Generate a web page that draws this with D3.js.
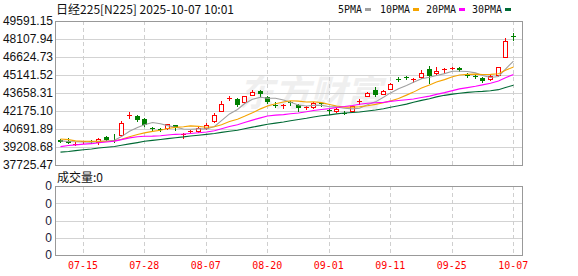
<!DOCTYPE html>
<html>
<head>
<meta charset="utf-8">
<script src="https://d3js.org/d3.v7.min.js"></script>
<style>
  body { margin: 0; background: #fff; }
  text { font-family: "Liberation Sans", Arial, sans-serif; }
</style>
</head>
<body>
<div id="kline"></div>

<script>
// trading days shown (07-10 .. 10-07)
var dates = ["07-10","07-11","07-14","07-15","07-16","07-17","07-18","07-22","07-23","07-24",
  "07-25","07-28","07-29","07-30","07-31","08-01","08-04","08-05","08-06","08-07",
  "08-08","08-12","08-13","08-14","08-15","08-18","08-19","08-20","08-21","08-22",
  "08-25","08-26","08-27","08-28","08-29","09-01","09-02","09-03","09-04","09-05",
  "09-08","09-09","09-10","09-11","09-12","09-16","09-17","09-18","09-19","09-22",
  "09-24","09-25","09-26","09-29","09-30","10-01","10-02","10-03","10-06","10-07"];

var open = [39820,39700,39420,39600,39720,39630,40060,39820,40230,41740,
  41780,41540,40760,40710,40790,41000,40180,40470,40530,40790,
  41360,42200,43200,43190,42910,43520,43850,43350,42700,42560,
  42880,42690,42450,42480,42820,42280,42200,42050,42150,42920,
  43450,43920,43600,43990,44850,44960,44720,44970,45650,45300,
  45540,45660,45720,45180,45080,44880,44780,45150,46650,48330];

var high = [39880,39950,39580,39740,39820,39960,40110,40290,41390,42070,
  41830,41580,40840,40780,41130,41060,40360,40640,40880,41200,
  41980,42990,43450,43240,43450,43870,43900,43420,42880,42780,
  43020,42720,42620,42890,42860,42350,42420,42200,42620,43140,
  43770,44140,43900,44500,44950,45060,44900,45550,45900,45780,
  45720,45800,45790,45300,45200,44950,45120,45800,48150,48580];

var low = [39600,39530,39390,39520,39520,39480,39780,39620,40100,41580,
  41350,40920,40560,40500,40700,40620,39960,40400,40450,40700,
  41300,42150,43050,42560,42850,43480,43350,42800,42520,42440,
  42700,42200,42350,42400,42600,41950,42120,41900,42100,42780,
  43380,43400,43550,43950,44650,44780,44560,44900,44500,45250,
  45320,45600,45450,44950,44900,44550,44720,45100,46600,48030];

var close = [39646,39570,39460,39678,39663,39901,39819,39775,41171,41826,
  41456,40998,40675,40655,41070,40800,40291,40550,40795,41059,
  41820,42718,43275,42649,43378,43714,43546,42889,42610,42633,
  42808,42394,42520,42829,42718,42189,42310,41939,42580,43019,
  43644,43459,43838,44373,44768,44902,44790,45303,45046,45494,
  45630,45755,45540,45080,45010,44620,45060,45770,47945,48250];

var ma5 = [39710,39662,39637,39635,39603,39654,39704,39767,40066,40498,
  40809,41045,41225,41122,40971,40840,40698,40673,40701,40699,
  40903,41388,41933,42304,42768,43147,43312,43235,43227,43078,
  42897,42667,42593,42637,42654,42530,42513,42397,42347,42407,
  42698,42928,43308,43667,44016,44268,44534,44827,44962,45107,
  45253,45446,45456,45429,45317,45101,44938,45021,45627,46291];

var ma10 = [39872,39814,39712,39681,39671,39682,39683,39702,39850,40051,
  40232,40375,40496,40594,40735,40825,40872,40949,40912,40835,
  40871,41043,41303,41503,41734,42025,42350,42584,42766,42923,
  43022,42990,42914,42932,42866,42714,42590,42495,42492,42531,
  42614,42721,42853,43007,43212,43483,43731,44068,44314,44562,
  44760,44990,45142,45196,45212,45177,45192,45238,45528,45804];

var ma20 = [39242,39329,39387,39444,39483,39553,39624,39695,39814,39958,
  40052,40094,40104,40137,40203,40253,40278,40326,40381,40443,
  40552,40709,40900,41048,41234,41425,41611,41767,41839,41879,
  41947,42016,42109,42217,42300,42369,42470,42540,42629,42727,
  42818,42855,42883,42970,43039,43098,43161,43281,43403,43546,
  43687,43855,43997,44101,44212,44330,44461,44653,44921,45183];

var ma30 = [38789,38842,38909,38983,39047,39125,39194,39251,39349,39463,
  39572,39678,39757,39827,39900,39977,40040,40113,40180,40251,
  40325,40411,40504,40592,40713,40844,40968,41079,41176,41270,
  41375,41469,41571,41676,41778,41854,41937,42010,42056,42096,
  42169,42251,42357,42481,42604,42741,42891,43049,43191,43339,
  43466,43567,43636,43712,43763,43791,43838,43934,44112,44299];

var priceTicks = [37725.47, 39208.68, 40691.89, 42175.10, 43658.31, 45141.52, 46624.73, 48107.94, 49591.15];
var volTicks = [0, 0, 0, 0, 0];
var dateTicks = ["07-15","07-28","08-07","08-20","09-01","09-11","09-25","10-07"];

var maNames = ["5PMA", "10PMA", "20PMA", "30PMA"];
var maColors = ["#a0a0a0", "#f5a400", "#ff00ff", "#006a35"];

var upColor = "#ff0000", downColor = "#008000";

// layout
var W = 578, H = 276;
var box = {left: 55, right: 522, top: 21, bottom: 165};
var vbox = {top: 186, bottom: 255};

var svg = d3.select("#kline")
  .append("svg")
    .attr("width", W)
    .attr("height", H);

var x = d3.scaleBand()
  .domain(dates)
  .range([56, 517]);
function cx(d) { return Math.round(x(d) + x.bandwidth() / 2); }

var y = d3.scaleLinear()
  .domain([priceTicks[0], priceTicks[priceTicks.length - 1]])
  .range([box.bottom, box.top]);

var yv = d3.scaleLinear()
  .domain([0, volTicks.length - 1])
  .range([vbox.bottom, vbox.top]);

// watermark
svg.append("text")
  .attr("x", 238).attr("y", 106)
  .style("font-family", "'Noto Sans CJK SC'")
  .style("font-size", "36px")
  .style("font-weight", "bold")
  .style("font-style", "italic")
  .attr("fill", "#efefef")
  .text("东方财富");

// horizontal grid (price)
svg.append("g").selectAll("line")
  .data(priceTicks.slice(1, -1))
  .join("line")
    .attr("x1", box.left).attr("x2", box.right)
    .attr("y1", function(d) { return Math.round(y(d)) + 0.5; })
    .attr("y2", function(d) { return Math.round(y(d)) + 0.5; })
    .attr("stroke", "#d3d3d3");

// horizontal grid (volume)
svg.append("g").selectAll("line")
  .data(d3.range(1, volTicks.length - 1))
  .join("line")
    .attr("x1", box.left).attr("x2", box.right)
    .attr("y1", function(d) { return Math.round(yv(d)) + 0.5; })
    .attr("y2", function(d) { return Math.round(yv(d)) + 0.5; })
    .attr("stroke", "#d3d3d3");

// vertical dashed grid in both panels
[[box.top, box.bottom], [vbox.top, vbox.bottom]].forEach(function(r) {
  svg.append("g").selectAll("line")
    .data(dateTicks)
    .join("line")
      .attr("x1", function(d) { return cx(d) + 0.5; })
      .attr("x2", function(d) { return cx(d) + 0.5; })
      .attr("y1", r[0]).attr("y2", r[1])
      .attr("stroke", "#cfcfcf")
      .attr("stroke-dasharray", "4,3");
});

// frames
svg.append("rect")
  .attr("x", box.left + 0.5).attr("y", box.top + 0.5)
  .attr("width", box.right - box.left).attr("height", box.bottom - box.top)
  .attr("fill", "none").attr("stroke", "#999");
svg.append("rect")
  .attr("x", box.left + 0.5).attr("y", vbox.top + 0.5)
  .attr("width", box.right - box.left).attr("height", vbox.bottom - vbox.top)
  .attr("fill", "none").attr("stroke", "#999");

// candles
var bars = dates.map(function(d, i) {
  return {date: d, o: open[i], h: high[i], l: low[i], c: close[i]};
});

var g = svg.append("g").selectAll("g")
  .data(bars)
  .join("g");

g.append("line")
  .attr("x1", function(d) { return cx(d.date) + 0.5; })
  .attr("x2", function(d) { return cx(d.date) + 0.5; })
  .attr("y1", function(d) { return Math.round(y(d.h)); })
  .attr("y2", function(d) { return Math.round(y(d.l)) + 1; })
  .attr("stroke", function(d) { return d.c >= d.o ? upColor : downColor; });

g.append("rect")
  .each(function(d) {
    var up = d.c >= d.o;
    var top = Math.round(y(Math.max(d.o, d.c)));
    var bot = Math.round(y(Math.min(d.o, d.c)));
    var h = bot - top;
    var r = d3.select(this);
    if (up && h >= 2) {
      r.attr("x", cx(d.date) - 2 + 0.5).attr("y", top + 0.5)
       .attr("width", 4).attr("height", h)
       .attr("fill", "#fff").attr("stroke", upColor);
    } else {
      r.attr("x", cx(d.date) - 2).attr("y", top)
       .attr("width", 5).attr("height", Math.max(1, h))
       .attr("fill", up ? upColor : downColor);
    }
  });

// moving averages
var line = d3.line()
  .x(function(d, i) { return cx(dates[i]) + 0.5; })
  .y(function(d) { return y(d); });

[ma5, ma10, ma20, ma30].forEach(function(s, k) {
  svg.append("path")
    .datum(s)
    .attr("d", line)
    .attr("fill", "none")
    .attr("stroke", maColors[k])
    .attr("stroke-width", 1.1);
});

// price axis
var yAxis = svg.append("g")
  .attr("transform", "translate(" + box.left + ",0)")
  .call(d3.axisLeft(y).tickValues(priceTicks).tickFormat(d3.format(".2f")).tickSize(0).tickPadding(2));
yAxis.select(".domain").remove();
yAxis.selectAll("text")
  .style("font-family", "'Liberation Sans', Arial, sans-serif")
  .style("font-size", "12px")
  .attr("fill", "#111");

// volume axis
var vAxis = svg.append("g")
  .attr("transform", "translate(" + box.left + ",0)")
  .call(d3.axisLeft(yv).tickValues(d3.range(volTicks.length))
    .tickFormat(function(i) { return volTicks[i]; }).tickSize(0).tickPadding(3));
vAxis.select(".domain").remove();
vAxis.selectAll("text")
  .style("font-family", "'Liberation Sans', Arial, sans-serif")
  .style("font-size", "12px")
  .attr("fill", "#1a1a3a");

// date axis
var xAxis = svg.append("g")
  .attr("transform", "translate(0," + vbox.bottom + ")")
  .call(d3.axisBottom(x).tickValues(dateTicks).tickSize(0).tickPadding(6));
xAxis.select(".domain").remove();
xAxis.selectAll("text")
  .style("font-family", "'DejaVu Sans Mono', monospace")
  .style("font-size", "11px")
  .attr("textLength", 30)
  .attr("lengthAdjust", "spacingAndGlyphs")
  .attr("fill", "#ff0000");

// title
svg.append("text")
  .attr("x", 56).attr("y", 14)
  .attr("textLength", 178).attr("lengthAdjust", "spacingAndGlyphs")
  .style("font-family", "'Noto Sans CJK SC'")
  .style("font-size", "12px")
  .attr("fill", "#111")
  .text("日经225[N225] 2025-10-07 10:01");

// volume title
svg.append("text")
  .attr("x", 57).attr("y", 182)
  .style("font-family", "'Noto Sans CJK SC'")
  .style("font-size", "12px")
  .attr("fill", "#111")
  .text("成交量:" + volTicks[0]);

// legend
var legX = [338, 380, 426, 472];
var leg = svg.append("g").selectAll("g")
  .data(maNames)
  .join("g");
leg.append("text")
  .attr("x", function(d, i) { return legX[i]; })
  .attr("y", 13)
  .attr("textLength", function(d) { return d.length * 6; })
  .attr("lengthAdjust", "spacingAndGlyphs")
  .style("font-family", "'DejaVu Sans Mono', monospace")
  .style("font-size", "11px")
  .attr("fill", "#111")
  .text(function(d) { return d; });
leg.append("rect")
  .attr("x", function(d, i) { return legX[i] + d.length * 6 + 3; })
  .attr("y", 8)
  .attr("width", 6).attr("height", 3)
  .attr("fill", function(d, i) { return maColors[i]; });
</script>
</body>
</html>
